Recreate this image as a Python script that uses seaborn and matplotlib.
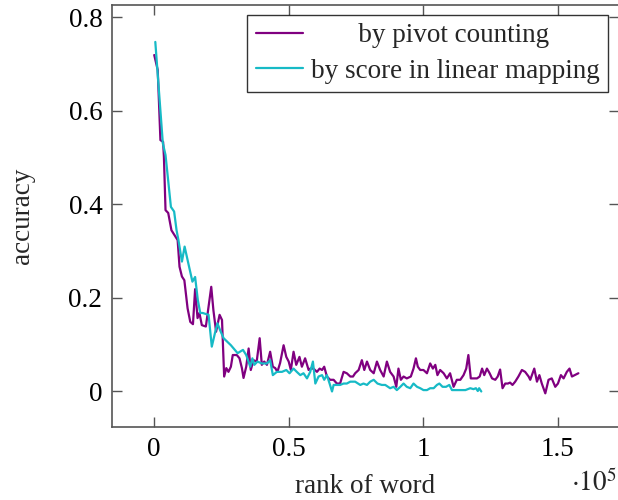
import numpy as np
import pandas as pd
import matplotlib
matplotlib.use("Agg")
import matplotlib.pyplot as plt
import seaborn as sns

# rank of word (in units of 1e5) and accuracy
pivot_rank = [0.000, 0.013, 0.023, 0.033, 0.036, 0.042, 0.052, 0.064, 0.075, 0.087,
              0.094, 0.103, 0.112, 0.124, 0.134, 0.144, 0.152, 0.161, 0.168, 0.177,
              0.192, 0.202, 0.212, 0.220, 0.230, 0.243, 0.252, 0.260, 0.268, 0.276,
              0.285, 0.292, 0.307, 0.317, 0.326, 0.332, 0.342, 0.351, 0.359, 0.369,
              0.381, 0.392, 0.400, 0.409, 0.419, 0.431, 0.441, 0.450, 0.458, 0.468,
              0.481, 0.491, 0.500, 0.508, 0.518, 0.528, 0.540, 0.549, 0.561, 0.574,
              0.580, 0.592, 0.605, 0.615, 0.624, 0.632, 0.642, 0.654, 0.667, 0.679,
              0.691, 0.704, 0.716, 0.729, 0.739, 0.747, 0.760, 0.772, 0.781, 0.791,
              0.803, 0.816, 0.828, 0.840, 0.853, 0.865, 0.877, 0.890, 0.900, 0.908,
              0.917, 0.927, 0.939, 0.954, 0.964, 0.973, 0.980, 0.989, 1.001, 1.014,
              1.026, 1.036, 1.045, 1.053, 1.063, 1.076, 1.088, 1.100, 1.113, 1.125,
              1.138, 1.150, 1.160, 1.168, 1.177, 1.187, 1.200, 1.210, 1.219, 1.227,
              1.237, 1.247, 1.256, 1.268, 1.277, 1.286, 1.295, 1.305, 1.315, 1.323,
              1.332, 1.342, 1.354, 1.367, 1.379, 1.392, 1.398, 1.413, 1.423, 1.432,
              1.441, 1.454, 1.466, 1.478, 1.491, 1.501, 1.512, 1.522, 1.534, 1.544,
              1.553, 1.563, 1.577]
pivot_acc = [0.719, 0.687, 0.537, 0.533, 0.501, 0.387, 0.381, 0.344, 0.334, 0.323,
             0.266, 0.245, 0.237, 0.177, 0.148, 0.143, 0.218, 0.156, 0.167, 0.141,
             0.138, 0.180, 0.223, 0.173, 0.127, 0.163, 0.152, 0.031, 0.049, 0.041,
             0.052, 0.077, 0.077, 0.070, 0.049, 0.028, 0.052, 0.091, 0.045, 0.066,
             0.063, 0.113, 0.056, 0.063, 0.056, 0.084, 0.052, 0.049, 0.041, 0.060,
             0.098, 0.073, 0.063, 0.045, 0.084, 0.056, 0.073, 0.052, 0.070, 0.045,
             0.048, 0.048, 0.041, 0.048, 0.045, 0.052, 0.031, 0.024, 0.024, 0.016,
             0.016, 0.041, 0.038, 0.031, 0.031, 0.038, 0.045, 0.066, 0.045, 0.063,
             0.045, 0.038, 0.063, 0.045, 0.031, 0.063, 0.041, 0.031, 0.009, 0.048,
             0.024, 0.031, 0.027, 0.031, 0.048, 0.070, 0.052, 0.045, 0.045, 0.038,
             0.059, 0.048, 0.056, 0.034, 0.045, 0.038, 0.027, 0.038, 0.009, 0.024,
             0.024, 0.034, 0.048, 0.077, 0.027, 0.027, 0.027, 0.031, 0.048, 0.034,
             0.048, 0.038, 0.027, 0.024, 0.031, 0.046, 0.006, 0.016, 0.016, 0.018,
             0.013, 0.020, 0.031, 0.045, 0.041, 0.031, 0.024, 0.048, 0.020, 0.034,
             0.016, -0.005, 0.024, 0.027, 0.009, 0.016, 0.034, 0.027, 0.041, 0.048,
             0.031, 0.034, 0.038]

score_rank = [0.004, 0.032, 0.042, 0.062, 0.074, 0.083, 0.090, 0.103, 0.113, 0.128,
              0.142, 0.152, 0.162, 0.171, 0.180, 0.202, 0.214, 0.227, 0.235, 0.245,
              0.258, 0.285, 0.310, 0.330, 0.342, 0.357, 0.365, 0.372, 0.384, 0.400,
              0.419, 0.431, 0.441, 0.456, 0.475, 0.491, 0.503, 0.518, 0.530, 0.543,
              0.555, 0.568, 0.580, 0.590, 0.599, 0.611, 0.624, 0.632, 0.642, 0.652,
              0.661, 0.667, 0.679, 0.691, 0.704, 0.716, 0.729, 0.747, 0.766, 0.778,
              0.791, 0.803, 0.816, 0.830, 0.846, 0.859, 0.877, 0.890, 0.902, 0.915,
              0.927, 0.939, 0.952, 0.964, 0.977, 0.989, 1.001, 1.014, 1.026, 1.039,
              1.051, 1.060, 1.072, 1.085, 1.097, 1.107, 1.120, 1.138, 1.157, 1.175,
              1.187, 1.196, 1.203, 1.208, 1.216]
score_acc = [0.747, 0.530, 0.505, 0.394, 0.384, 0.344, 0.323, 0.277, 0.309, 0.270,
             0.234, 0.244, 0.195, 0.167, 0.167, 0.163, 0.095, 0.127, 0.145, 0.130,
             0.113, 0.098, 0.081, 0.088, 0.077, 0.052, 0.070, 0.056, 0.063, 0.059,
             0.059, 0.066, 0.034, 0.041, 0.041, 0.045, 0.038, 0.048, 0.041, 0.034,
             0.038, 0.027, 0.041, 0.063, 0.016, 0.031, 0.034, 0.024, 0.034, 0.016,
             -0.001, 0.013, 0.013, 0.013, 0.016, 0.016, 0.020, 0.020, 0.013, 0.016,
             0.013, 0.020, 0.024, 0.016, 0.013, 0.013, 0.006, 0.009, 0.002, 0.009,
             0.016, 0.009, 0.006, 0.016, 0.009, 0.006, 0.002, 0.002, 0.006, 0.006,
             0.013, 0.016, 0.009, 0.009, 0.013, 0.002, 0.002, 0.002, 0.002, 0.006,
             0.004, 0.006, 0.000, 0.006, -0.001]

series_names = ["by pivot counting", "by score in linear mapping"]
x_ticks = [0, 0.5, 1, 1.5]
x_tick_labels = ["0", "0.5", "1", "1.5"]
y_ticks = [0, 0.2, 0.4, 0.6, 0.8]
y_tick_labels = ["0", "0.2", "0.4", "0.6", "0.8"]

df = pd.concat([
    pd.DataFrame({"rank": pivot_rank, "acc": pivot_acc, "method": series_names[0]}),
    pd.DataFrame({"rank": score_rank, "acc": score_acc, "method": series_names[1]}),
], ignore_index=True)

sns.set_style("ticks")
plt.rcParams["font.family"] = ["Liberation Serif", "DejaVu Serif"]
plt.rcParams["mathtext.fontset"] = "stix"

FS = 19.5
W, H = 618, 500
fig = plt.figure(figsize=(W / 100, H / 100), dpi=100)
left, right, top, bottom = 112, 619, 5, 427
ax = fig.add_axes([left / W, 1 - bottom / H, (right - left) / W, (bottom - top) / H])

colors = {series_names[0]: "#800080", series_names[1]: "#17BAC6"}
sns.lineplot(data=df, x="rank", y="acc", hue="method", palette=colors,
             estimator=None, sort=False, linewidth=1.6, ax=ax, legend=False)

ax.set_xlim(-0.157, 1.728)
ax.set_ylim(-0.077, 0.826)
ax.set_xticks(x_ticks)
ax.set_xticklabels(x_tick_labels)
ax.set_yticks(y_ticks)
ax.set_yticklabels(y_tick_labels)

spine_col = "#555555"
for s in ax.spines.values():
    s.set_visible(True)
    s.set_color(spine_col)
    s.set_linewidth(1.2)
ax.tick_params(axis="both", direction="in", length=7, width=1.0, color=spine_col,
               labelsize=FS, top=True, right=True, labelcolor="black", pad=7)

ax.set_xlabel("rank of word", fontsize=FS, labelpad=9)
ax.set_ylabel("accuracy", fontsize=FS, labelpad=24)
fig.text(571 / W, 1 - 483 / H, r"$\cdot 10^5$", fontsize=FS, ha="left", va="center")

from matplotlib.lines import Line2D
handles = [Line2D([], [], color=colors[n], linewidth=1.6) for n in series_names]
labels = ["       " + series_names[0], series_names[1]]
leg = ax.legend(handles, labels, loc="upper right",
                bbox_to_anchor=((608 - left) / (right - left), 1 - (15 - top) / (bottom - top)),
                borderaxespad=0, fontsize=FS, frameon=True, fancybox=False,
                edgecolor="black", handlelength=1.75, handletextpad=0.3,
                borderpad=0.3, labelspacing=0.4)
leg.get_frame().set_linewidth(1.0)

fig.savefig("out.png", dpi=100)
